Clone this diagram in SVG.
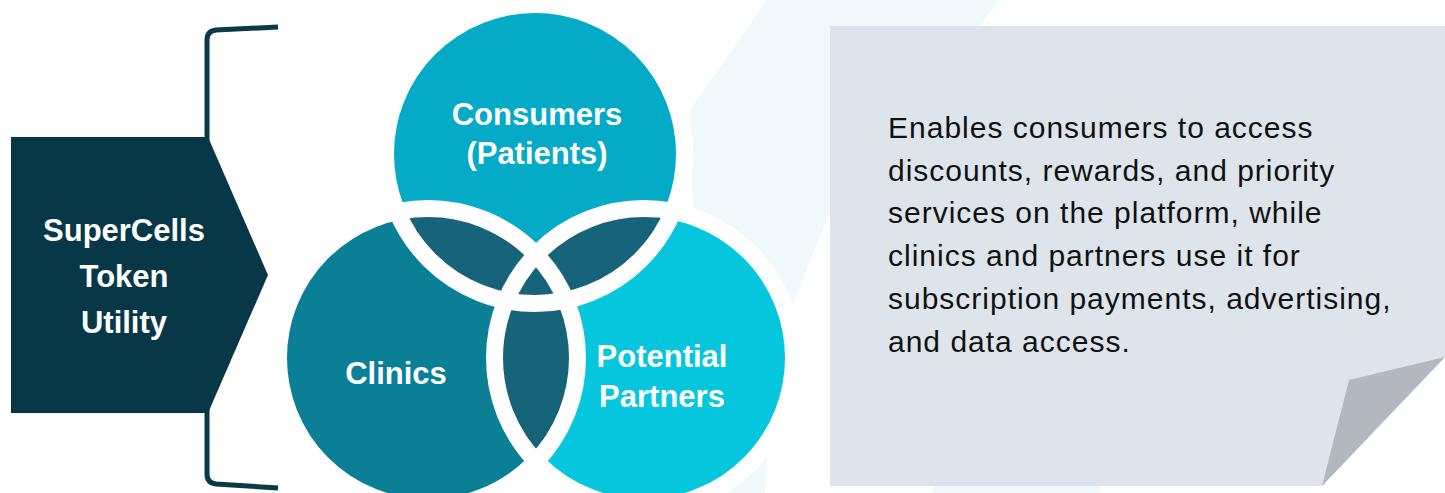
<svg xmlns="http://www.w3.org/2000/svg" width="1445" height="493" viewBox="0 0 1445 493">
  <style>
    .lbl { font-family: "Liberation Sans", Arial, sans-serif; font-weight: bold; font-size: 31px; fill: #ffffff; text-anchor: middle; }
    .body { font-family: "Liberation Sans", Arial, sans-serif; font-size: 30px; letter-spacing: 1px; fill: #111111; }
    .ring { fill: none; stroke: #ffffff; stroke-width: 17; }
    .lens { fill: #16637a; }
  </style>
  <defs>
    <clipPath id="clipT"><circle cx="535" cy="154" r="149.5"/></clipPath>
    <clipPath id="clipL"><circle cx="428" cy="358" r="149.5"/></clipPath>
  </defs>
  <rect x="0" y="0" width="1445" height="493" fill="#ffffff"/>

  <g id="background">
    <polygon points="767,0 1000,0 830,213 790,310 775,340 765,493 700,493 690,110" fill="#eff8fa"/>
    <rect x="933" y="486" width="167" height="7" fill="#eff8fa"/>
  </g>

  <g id="connectors">
    <path d="M278,27 L216,30 Q207,31 207,40 L207,474 Q207,483 216,484 L278,488" fill="none" stroke="#0a3a48" stroke-width="5"/>
  </g>

  <g id="token-utility">
    <polygon points="11,137 208,137 268,275 208,413 11,413" fill="#083847"/>
    <text class="lbl" x="124" y="241">SuperCells</text>
    <text class="lbl" x="124" y="287">Token</text>
    <text class="lbl" x="124" y="333">Utility</text>
  </g>

  <g id="venn">
    <g id="consumers">
      <circle cx="535" cy="154" r="149.5" fill="#04aac6"/>
    </g>
    <g id="clinics">
      <circle cx="428" cy="358" r="149.5" fill="#0b7f96"/>
    </g>
    <g id="partners">
      <circle cx="644" cy="358" r="149.5" fill="#05c6dc"/>
    </g>
    <g id="overlaps">
      <circle class="lens" cx="428" cy="358" r="149.5" clip-path="url(#clipT)"/>
      <circle class="lens" cx="644" cy="358" r="149.5" clip-path="url(#clipT)"/>
      <circle class="lens" cx="644" cy="358" r="149.5" clip-path="url(#clipL)"/>
    </g>
    <g id="rings">
      <circle class="ring" cx="535" cy="154" r="149.5"/>
      <circle class="ring" cx="428" cy="358" r="149.5"/>
      <circle class="ring" cx="644" cy="358" r="149.5"/>
    </g>
    <text class="lbl" x="537" y="125">Consumers</text>
    <text class="lbl" x="537" y="164">(Patients)</text>
    <text class="lbl" x="396" y="384">Clinics</text>
    <text class="lbl" x="662" y="367">Potential</text>
    <text class="lbl" x="662" y="407">Partners</text>
  </g>

  <g id="description">
    <polygon points="830,26 1445,26 1445,357 1322,486 830,486" fill="#dde4ec"/>
    <polygon points="1349,380 1445,357 1322,486" fill="#b1b8bf"/>
    <text class="body" x="888" y="138">Enables consumers to access</text>
    <text class="body" x="888" y="181">discounts, rewards, and priority</text>
    <text class="body" x="888" y="223">services on the platform, while</text>
    <text class="body" x="888" y="266">clinics and partners use it for</text>
    <text class="body" x="888" y="309">subscription payments, advertising,</text>
    <text class="body" x="888" y="352">and data access.</text>
  </g>
</svg>
